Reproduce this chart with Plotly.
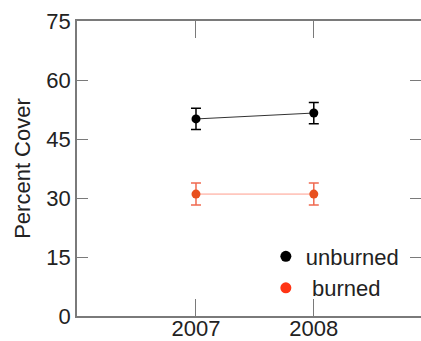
import plotly.graph_objects as go

years = [2007, 2008]
unburned = [50.1, 51.6]
unburned_err = [2.7, 2.7]
burned = [31.0, 31.0]
burned_err = [2.8, 2.8]
y_ticks = [0, 15, 30, 45, 60, 75]

fig = go.Figure()
fig.add_trace(go.Scatter(
    x=years, y=unburned, mode="lines+markers",
    line=dict(color="#333333", width=1),
    marker=dict(color="black", size=9),
    error_y=dict(type="data", array=unburned_err, color="black", thickness=1.5, width=5),
    showlegend=False))
fig.add_trace(go.Scatter(
    x=years, y=burned, mode="lines+markers",
    line=dict(color="#ff9c8c", width=1),
    marker=dict(color="#e8501e", size=9),
    error_y=dict(type="data", array=burned_err, color="#f06a50", thickness=1.5, width=5),
    showlegend=False))
# legend entries
fig.add_trace(go.Scatter(x=[None], y=[None], mode="markers", name="unburned",
                         marker=dict(color="black", size=11)))
fig.add_trace(go.Scatter(x=[None], y=[None], mode="markers", name=" burned",
                         marker=dict(color="#ff3414", size=11)))

axis_common = dict(showgrid=False, zeroline=False, showline=True, linecolor="#7a7a7a",
                   linewidth=1.5, ticks="inside", tickcolor="#7a7a7a", tickwidth=1,
                   mirror="ticks", automargin=False,
                   tickfont=dict(family="Liberation Sans, Arial", size=22, color="#222"))

fig.update_layout(
    width=421, height=341,
    margin=dict(l=77, r=0, t=21, b=25),
    paper_bgcolor="white", plot_bgcolor="white",
    font=dict(family="Liberation Sans, Arial", size=22, color="#222"),
    xaxis=dict(range=[2005.99, 2008.91], tickvals=years, ticktext=["2007", "2008"],
               ticklen=17, ticklabelstandoff=-8, **axis_common),
    yaxis=dict(range=[0, 75], tickvals=y_ticks, ticklen=11,
               title=dict(text="Percent Cover", font=dict(size=22), standoff=10),
               **axis_common),
    legend=dict(x=0.549, y=0.273, xanchor="left", yanchor="top",
                bgcolor="rgba(0,0,0,0)", font=dict(size=22, color="#222"),
                tracegroupgap=0, itemsizing="trace"),
)

fig.write_html("out.html", config={"displayModeBar": False},
               post_script="document.body.style.margin='0';document.body.style.overflow='hidden';")
